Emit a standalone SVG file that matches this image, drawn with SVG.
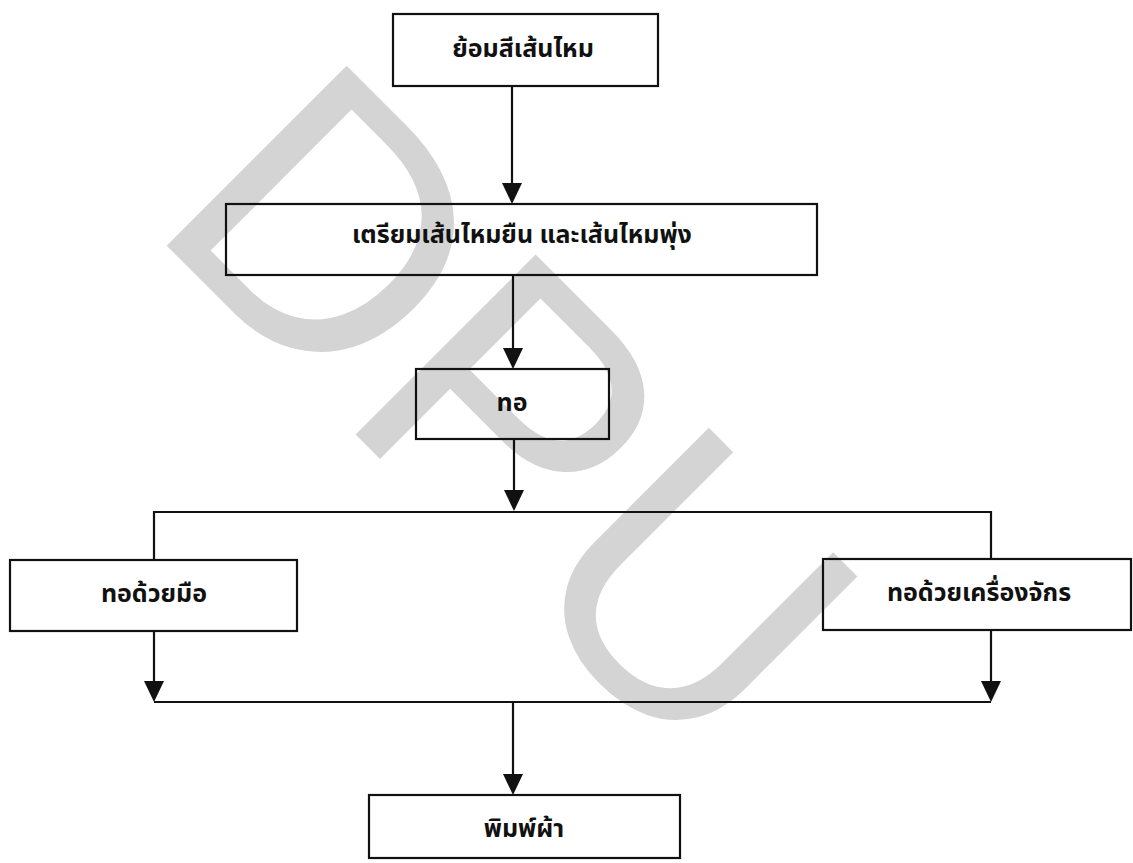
<svg xmlns="http://www.w3.org/2000/svg" width="1133" height="863" viewBox="0 0 1133 863">
<defs>
<style>
.box{fill:none;stroke:#111;stroke-width:2.2}
.ln{fill:none;stroke:#111;stroke-width:2.2}
.ah{fill:#111}
.lbl{font-family:"Noto Sans Thai","Noto Sans","DejaVu Sans",sans-serif;font-weight:bold;font-size:25px;fill:#111;text-anchor:middle}
.wm{font-family:"Liberation Sans",Arial,sans-serif;font-size:370px;fill:#d4d4d4}
</style>
</defs>
<rect width="1133" height="863" fill="#fff"/>
<g id="watermark" transform="translate(165,244) rotate(45)">
<text class="wm" x="-28" y="0">DPU</text>
</g>
<g id="connectors">
<path class="ln" d="M512,86 V190"/>
<path class="ln" d="M513,275 V355"/>
<path class="ln" d="M514,439 V497"/>
<path class="ln" d="M154,560 V512 H991 V559"/>
<path class="ln" d="M154,631 V690"/>
<path class="ln" d="M991,630 V690"/>
<path class="ln" d="M154,702 H991"/>
<path class="ln" d="M513,702 V782"/>
<path class="ah" d="M502,183 L522,183 L512,204 Z"/>
<path class="ah" d="M503,348 L523,348 L513,369 Z"/>
<path class="ah" d="M504,490 L524,490 L514,511 Z"/>
<path class="ah" d="M144,681 L164,681 L154,702 Z"/>
<path class="ah" d="M981,681 L1001,681 L991,702 Z"/>
<path class="ah" d="M503,774 L523,774 L513,795 Z"/>
</g>
<g id="n1"><rect class="box" x="393" y="14" width="265" height="72"/><text class="lbl" x="523" y="57">ย้อมสีเส้นไหม</text></g>
<g id="n2"><rect class="box" x="226" y="204" width="591" height="71"/><text class="lbl" x="522" y="243">เตรียมเส้นไหมยืน และเส้นไหมพุ่ง</text></g>
<g id="n3"><rect class="box" x="416" y="369" width="193" height="70"/><text class="lbl" x="512" y="411">ทอ</text></g>
<g id="n4"><rect class="box" x="10" y="560" width="287" height="71"/><text class="lbl" x="154" y="602">ทอด้วยมือ</text></g>
<g id="n5"><rect class="box" x="823" y="559" width="308" height="71"/><text class="lbl" x="979" y="601">ทอด้วยเครื่องจักร</text></g>
<g id="n6"><rect class="box" x="369" y="795" width="311" height="63"/><text class="lbl" x="524" y="837">พิมพ์ผ้า</text></g>
</svg>
